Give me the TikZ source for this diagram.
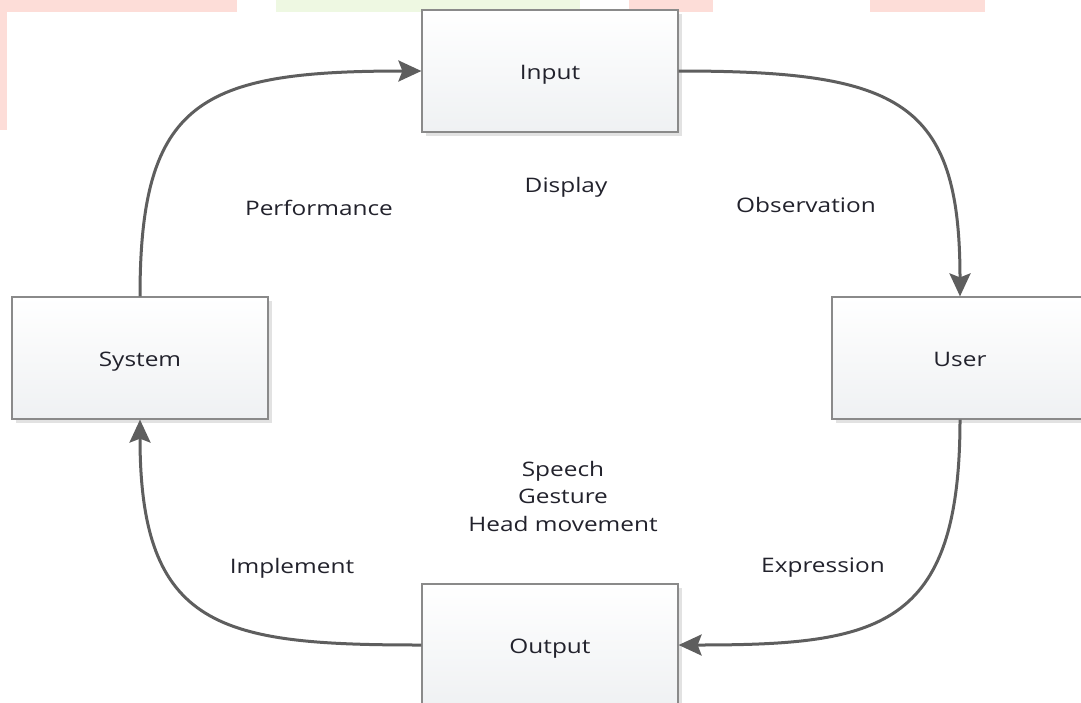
\documentclass[tikz,border=0pt]{standalone}
\usepackage{fontspec}
\setmainfont{Open Sans}
\usetikzlibrary{arrows.meta,shadows}
\definecolor{arr}{HTML}{5E5E5E}
\definecolor{boxline}{HTML}{8A8A8A}
\definecolor{boxbot}{HTML}{EFF1F3}
\definecolor{shadowgray}{HTML}{E2E2E2}
\definecolor{txt}{HTML}{22222C}
\definecolor{wpink}{HTML}{FDDDD8}
\definecolor{wgreen}{HTML}{EEF8E2}
\newcommand{\widetxt}[1]{\scalebox{1.22}[1]{#1}}
\begin{document}
\begin{tikzpicture}[x=1pt,y=1pt,
  box/.style={draw=boxline, line width=1.2pt, minimum width=256pt, minimum height=122pt,
    top color=white, bottom color=boxbot, inner sep=0pt, text=txt,
    text height=16pt, text depth=0pt,
    font=\fontsize{20}{24}\selectfont,
    drop shadow={shadow xshift=4pt, shadow yshift=-4pt, fill=shadowgray, opacity=1}},
  flow/.style={draw=arr, line width=3pt, -{Stealth[length=23pt,width=21pt,inset=4pt]}},
  lbl/.style={text=txt, inner sep=0pt, font=\fontsize{20}{27.5}\selectfont, align=center}]
\clip (0,0) rectangle (1081,-702);
\fill[white] (0,0) rectangle (1081,-702);
% faint watermark bands at the top edge
\fill[wpink] (0,0) rectangle (237,-12);
\fill[wgreen] (276,0) rectangle (580,-12);
\fill[wpink] (629,0) rectangle (713,-12);
\fill[wpink] (870,0) rectangle (985,-12);
\fill[wpink] (0,0) rectangle (7,-130);
% boxes
\node[box] (in) at (550,-71) {\widetxt{Input}};
\node[box] (sys) at (140,-358) {\widetxt{System}};
\node[box] (usr) at (960,-358) {\widetxt{User}};
\node[box] (out) at (550,-645) {\widetxt{Output}};
% connectors
\draw[flow] (sys.north) .. controls +(0,196) and +(-221,0) .. (in.west);
\draw[flow] (in.east) .. controls +(221,0) and +(0,196) .. (usr.north);
\draw[flow] (usr.south) .. controls +(0,-210) and +(200,0) .. (out.east);
\draw[flow] (out.west) .. controls +(-200,0) and +(0,-210) .. (sys.south);
% labels
\node[lbl] (display) at (566,-187) {\widetxt{Display}};
\node[lbl] (perf) at (319,-208) {\widetxt{Performance}};
\node[lbl] (obs) at (806,-205) {\widetxt{Observation}};
\node[lbl] (acts) at (563,-498) {\widetxt{\begin{tabular}{@{}c@{}}Speech\\Gesture\\Head movement\end{tabular}}};
\node[lbl] (impl) at (292,-568) {\widetxt{Implement}};
\node[lbl] (expr) at (823,-568) {\widetxt{Expression}};
\end{tikzpicture}
\end{document}
